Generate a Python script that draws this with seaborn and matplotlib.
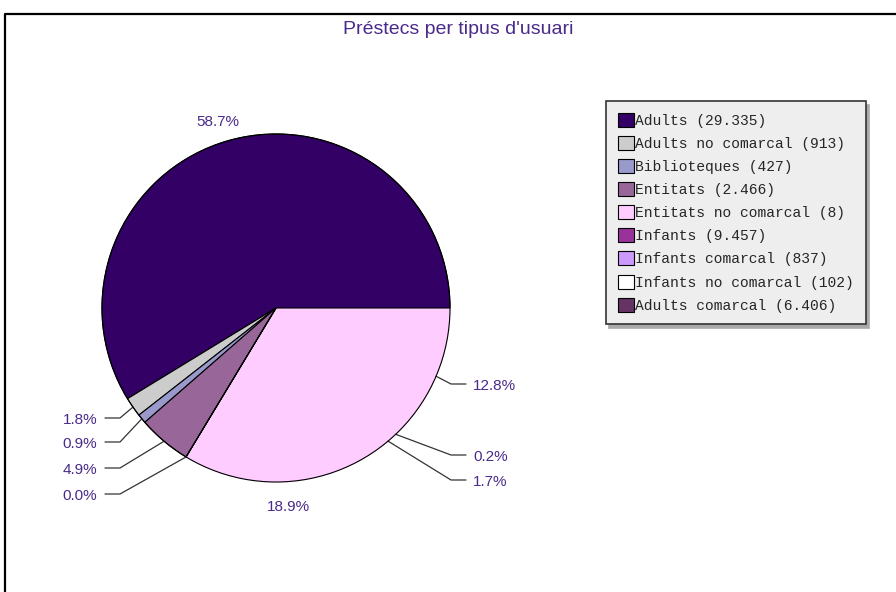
import matplotlib
matplotlib.use("Agg")
import matplotlib.pyplot as plt
import matplotlib.patches as mpatches
import seaborn as sns
import numpy as np

# Data: loans per user type
categories = ['Adults', 'Adults no comarcal', 'Biblioteques', 'Entitats',
              'Entitats no comarcal', 'Infants', 'Infants comarcal',
              'Infants no comarcal', 'Adults comarcal']
loans = [29335, 913, 427, 2466, 8, 9457, 837, 102, 6406]
legend_labels = ['Adults (29.335)', 'Adults no comarcal (913)', 'Biblioteques (427)',
                 'Entitats (2.466)', 'Entitats no comarcal (8)', 'Infants (9.457)',
                 'Infants comarcal (837)', 'Infants no comarcal (102)',
                 'Adults comarcal (6.406)']

# Colours: legend swatches, and what is actually painted in the pie
legend_colors = ['#330066', '#cccccc', '#9999cc', '#996699', '#ffccff',
                 '#993399', '#cc99ff', '#ffffff', '#663366']
fill_colors = ['#330066', '#cccccc', '#9999cc', '#996699', '#ffccff',
               '#ffccff', '#ffccff', '#ffccff', '#ffccff']
text_color = '#4a2a8a'

sns.set_theme(style="white")
plt.rcParams['font.family'] = ['Liberation Sans', 'DejaVu Sans']

W, H = 896, 592
fig = plt.figure(figsize=(W / 100, H / 100), dpi=100)
ax = fig.add_axes([0, 0, 1, 1])

cx, cy, r = 276, H - 308, 174
wedges, _ = ax.pie(loans, colors=fill_colors, startangle=0, counterclock=True,
                   center=(cx, cy), radius=r,
                   wedgeprops=dict(edgecolor='black', linewidth=0.8))
# the merged pink region is painted without inner edges
for w in wedges[5:]:
    w.set_edgecolor(w.get_facecolor())
    w.set_zorder(0.5)
ax.add_patch(mpatches.Circle((cx, cy), r, fill=False, edgecolor='black', lw=0.8, zorder=3))

ax.set_xlim(0, W)
ax.set_ylim(0, H)
ax.set_aspect('equal', adjustable='box')
ax.axis('off')

total = sum(loans)
pcts = [f"{100 * v / total:.1f}%" for v in loans]

# label layout: text y in pixels for the leader-line labels
left_y = {1: 418, 2: 442, 3: 468, 4: 494}
right_y = {8: 384, 7: 455, 6: 480}

for i, w in enumerate(wedges):
    mid = np.deg2rad((w.theta1 + w.theta2) / 2)
    px, py = cx + r * np.cos(mid), cy + r * np.sin(mid)
    if i in left_y:
        ly = H - left_y[i]
        ax.plot([px, 120, 105], [py, ly, ly], color='#333333', lw=0.9)
        ax.text(97, ly - 2, pcts[i], ha='right', va='center', fontsize=11, color=text_color)
    elif i in right_y:
        ly = H - right_y[i]
        ax.plot([px, 451, 466], [py, ly, ly], color='#333333', lw=0.9)
        ax.text(473, ly - 2, pcts[i], ha='left', va='center', fontsize=11, color=text_color)
    else:
        tx, ty = cx + 1.13 * r * np.cos(mid), cy + 1.13 * r * np.sin(mid)
        dx = -5 if ty > cy else 2
        ax.text(tx + dx, ty - 3, pcts[i], ha='center', va='center', fontsize=11, color=text_color)

# title
ax.text(458, H - 29, "Préstecs per tipus d'usuari", ha='center', va='center',
        fontsize=14, color=text_color)

# frame (left and top)
ax.plot([5, 5, W], [0, H - 14, H - 14], color='black', lw=1.6, clip_on=False)

# legend
handles = [mpatches.Patch(facecolor=c, edgecolor='black', lw=0.8) for c in legend_colors]
leg = ax.legend(handles, legend_labels, loc='upper left',
                bbox_to_anchor=(606 / W, 1 - 101 / H), bbox_transform=fig.transFigure,
                prop={'family': 'Liberation Mono', 'size': 10.5},
                frameon=True, fancybox=False, framealpha=1,
                facecolor='#eeeeee', edgecolor='#333333',
                handlelength=1.1, handleheight=1.1, handletextpad=0.12,
                labelspacing=0.56, borderpad=0.8, borderaxespad=0,
                shadow={'ox': 2, 'oy': -3, 'color': '#aaaaaa', 'alpha': 1})
leg.get_frame().set_linewidth(1.2)

fig.savefig("out.png", dpi=100, facecolor='white')
